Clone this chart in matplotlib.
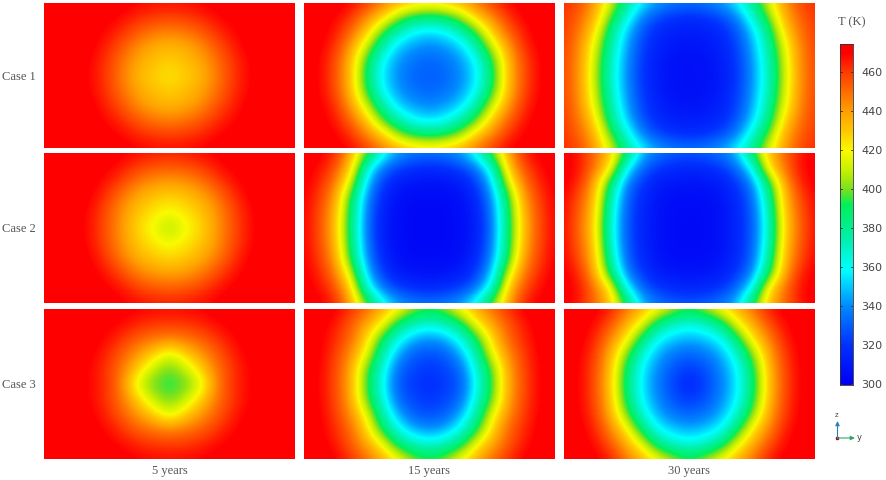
import numpy as np
import matplotlib
matplotlib.use("Agg")
import matplotlib.pyplot as plt
from matplotlib.colors import LinearSegmentedColormap, Normalize

row_labels = ["Case 1", "Case 2", "Case 3"]
col_labels = ["5 years", "15 years", "30 years"]
cbar_ticks = [300, 320, 340, 360, 380, 400, 420, 440, 460]

# temperature (K): one quadrant, centre outward (rows: centre to top, cols: centre to side)
case1_5y = [[424,428,434,447,460,469,474,475,475],
            [428,432,438,449,461,469,474,475,475],
            [434,437,443,455,464,472,475,475,475],
            [445,448,454,462,468,473,475,475,475],
            [459,460,463,468,472,475,475,475,475],
            [467,468,470,473,475,475,475,475,475]]
case1_15y = [[330,331,339,355,388,432,456,470,474],
             [331,334,342,358,393,433,457,470,474],
             [338,342,350,375,410,440,462,471,475],
             [352,357,372,396,430,451,466,473,475],
             [384,388,403,428,444,461,470,474,475],
             [426,430,436,448,460,469,473,475,475]]
case1_30y = [[306,307,310,320,340,368,408,442,458],
             [306,307,311,321,341,370,410,443,458],
             [308,309,313,323,344,375,414,444,459],
             [311,312,316,327,350,381,424,448,460],
             [317,319,324,337,364,396,434,452,461],
             [334,336,343,356,380,412,440,457,463]]
case2_5y = [[405,418,426,441,455,467,473,475,475],
            [418,423,430,442,456,467,473,475,475],
            [426,430,436,447,460,470,474,475,475],
            [439,441,447,457,466,472,475,475,475],
            [453,455,459,466,471,474,475,475,475],
            [465,466,468,471,474,475,475,475,475]]
case2_15y = [[303,303,305,312,334,386,433,457,470],
             [303,303,305,313,336,388,435,458,470],
             [304,304,306,316,340,392,440,460,471],
             [307,308,311,322,350,412,447,464,472],
             [316,318,323,335,366,429,456,468,473],
             [335,337,344,365,400,438,464,472,474]]
case2_30y = [[304,304,307,314,328,365,425,451,468],
             [304,304,307,315,329,367,428,453,469],
             [305,305,308,316,331,374,431,456,470],
             [308,309,311,321,338,386,436,463,472],
             [315,316,320,332,358,423,448,467,473],
             [328,330,336,348,390,430,450,466,472]]
case3_5y = [[392,398,412,445,462,469,473,475,475],
            [398,408,428,448,461,469,473,475,475],
            [412,428,441,453,464,471,474,475,475],
            [445,448,453,461,468,473,475,475,475],
            [460,461,464,468,472,475,475,475,475],
            [468,469,470,473,475,475,475,475,475]]
case3_15y = [[318,321,328,360,396,437,457,470,474],
             [320,324,332,365,398,438,458,470,474],
             [326,329,345,375,417,443,460,471,475],
             [340,345,362,390,427,451,463,472,475],
             [365,372,386,420,438,454,466,473,475],
             [396,403,422,437,451,462,471,475,475]]
case3_30y = [[315,323,336,354,385,429,456,470,474],
             [321,326,339,356,388,431,457,470,474],
             [331,335,345,365,400,436,459,471,475],
             [345,349,358,385,423,444,464,472,475],
             [363,369,382,416,436,455,468,473,475],
             [395,406,421,435,449,465,472,475,475]]

panels = [[case1_5y, case1_15y, case1_30y],
          [case2_5y, case2_15y, case2_30y],
          [case3_5y, case3_15y, case3_30y]]

stop_T = [300, 320, 340, 358, 375, 392, 400, 410, 420, 430, 440, 450, 460, 470, 475]
stop_rgb = [(0,0,245),(0,50,255),(0,140,255),(0,255,255),(0,240,170),(0,240,90),(120,225,30),
            (200,240,0),(250,250,0),(255,200,0),(255,160,0),(255,110,0),(255,60,0),(255,0,0),(255,0,0)]
vmin, vmax = 300, 475
cmap = LinearSegmentedColormap.from_list(
    "temp", [((t - vmin) / (vmax - vmin), tuple(c / 255 for c in rgb)) for t, rgb in zip(stop_T, stop_rgb)], N=512)
norm = Normalize(vmin, vmax)

W, H = 886, 480
fig = plt.figure(figsize=(W / 100, H / 100), dpi=100, facecolor="white")

def axpx(x0, y0, x1, y1, **kw):
    return fig.add_axes([x0 / W, 1 - y1 / H, (x1 - x0) / W, (y1 - y0) / H], **kw)

col_x = [(44, 295), (304, 555), (564, 815)]
row_y = [(3, 148), (153, 303), (309, 459)]
GREY = "#555555"

for r, (y0, y1) in enumerate(row_y):
    for c, (x0, x1) in enumerate(col_x):
        ax = axpx(x0, y0, x1, y1)
        q = np.array(panels[r][c], dtype=float)
        right = np.hstack([q[:, :0:-1], q])
        full = np.vstack([right[:0:-1], right])
        ny, nx = full.shape
        ax.imshow(full, cmap=cmap, norm=norm, aspect="auto", origin="lower",
                  extent=(-0.5, nx - 0.5, -0.5, ny - 0.5),
                  interpolation="bicubic", interpolation_stage="data")
        ax.set_xlim(0, nx - 1)
        ax.set_ylim(0, ny - 1)
        ax.axis("off")
    fig.text(36 / W, 1 - (sum(row_y[r]) / 2 + 1) / H, row_labels[r], ha="right", va="center",
             family="Liberation Serif", fontsize=9, color=GREY)
for c, (x0, x1) in enumerate(col_x):
    fig.text((x0 + x1) / 2 / W, 1 - 471 / H, col_labels[c], ha="center", va="center",
             family="Liberation Serif", fontsize=9, color=GREY)

cax = axpx(840, 44, 853, 385)
grad = np.linspace(299.6, 474.4, 512)[:, None]
cax.imshow(grad, cmap=cmap, norm=norm, aspect="auto", origin="lower", extent=(0, 1, 299.6, 474.4))
cax.set_xticks([])
cax.yaxis.tick_right()
cax.set_yticks(cbar_ticks)
cax.tick_params(axis="y", length=0, labelsize=8, labelcolor="#444444", pad=6)
for t in cbar_ticks:
    cax.plot([0, 0.16], [t, t], color="#333333", lw=0.6)
    cax.plot([0.84, 1], [t, t], color="#333333", lw=0.6)
cax.set_xlim(0, 1)
cax.set_ylim(299.6, 474.4)
for s in cax.spines.values():
    s.set_linewidth(0.6)
    s.set_color("#333333")
fig.text(852 / W, 1 - 22 / H, "T (K)", ha="center", va="center",
         family="Liberation Serif", fontsize=9, color=GREY)

# orientation triad
tri = axpx(0, 0, W, H)
tri.set_xlim(0, W)
tri.set_ylim(H, 0)
tri.axis("off")
tri.patch.set_alpha(0)
tri.annotate("", xy=(837.5, 421), xytext=(837.5, 438), arrowprops=dict(arrowstyle="-|>,head_width=0.12,head_length=0.25", color="#2a7fb5", lw=0.8, shrinkA=0, shrinkB=0))
tri.annotate("", xy=(855, 438), xytext=(837.5, 438), arrowprops=dict(arrowstyle="-|>,head_width=0.12,head_length=0.25", color="#2fa66a", lw=0.8, shrinkA=0, shrinkB=0))
tri.plot([837.5], [438], "s", ms=2, color="#a01030")
tri.text(837, 415, "z", fontsize=5, color="#444444", ha="center", va="center")
tri.text(859.5, 437.5, "y", fontsize=6, color="#444444", ha="center", va="center")

fig.savefig("out.png", dpi=100)
